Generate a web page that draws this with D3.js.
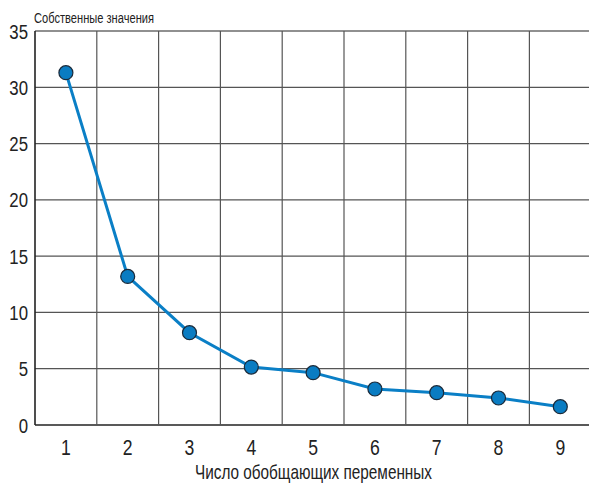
<!DOCTYPE html>
<html><head><meta charset="utf-8">
<script src="https://cdn.jsdelivr.net/npm/d3@7"></script>
<style>
body{margin:0;background:#fff;}
text{font-family:"Liberation Sans",Arial,sans-serif;fill:#222;}
</style></head><body>
<svg id="c" width="589" height="484"></svg>
<script>
const categories = [1,2,3,4,5,6,7,8,9];
const values = [31.3, 13.2, 8.2, 5.15, 4.65, 3.2, 2.87, 2.4, 1.63];
const yTicks = [0,5,10,15,20,25,30,35];
const yLabel = "Собственные значения";
const xLabel = "Число обобщающих переменных";

const svg = d3.select("#c");
const L=35, T=31, B=425, W=61.8;
const x = d3.scaleBand().domain(categories).range([L, L+W*categories.length]).padding(0);
const y = d3.scaleLinear().domain([0,35]).range([B,T]);
const SX = 0.8;

// horizontal grid
svg.append("g").selectAll("line").data(yTicks).join("line")
  .attr("x1",L).attr("x2",589).attr("y1",d=>y(d)).attr("y2",d=>y(d))
  .attr("stroke",d=>d===0||d===35?"#222":"#555").attr("stroke-width",d=>d===0?1.6:1.2);
// vertical grid
svg.append("g").selectAll("line").data(categories).join("line")
  .attr("x1",d=>x(d)).attr("x2",d=>x(d)).attr("y1",T).attr("y2",B)
  .attr("stroke",(d,i)=>i===0?"#222":"#555").attr("stroke-width",(d,i)=>i===0?1.6:1.2);

// y tick labels
svg.append("g").selectAll("text").data(yTicks).join("text")
  .attr("transform",d=>`translate(28,${y(d)+7.5}) scale(${SX},1)`)
  .attr("text-anchor","end").attr("font-size",21).text(d=>d);
// x tick labels
svg.append("g").selectAll("text").data(categories).join("text")
  .attr("transform",d=>`translate(${x(d)+x.bandwidth()/2},455) scale(${SX},1)`)
  .attr("text-anchor","middle").attr("font-size",22).text(d=>d);

svg.append("text").attr("x",34).attr("y",23).attr("font-size",14)
  .attr("textLength",120).attr("lengthAdjust","spacingAndGlyphs").text(yLabel);
svg.append("text").attr("x",195).attr("y",479).attr("font-size",21)
  .attr("textLength",237).attr("lengthAdjust","spacingAndGlyphs").text(xLabel);

const cx = d=>x(d)+x.bandwidth()/2;
svg.append("path").datum(categories)
  .attr("d", d3.line().x(d=>cx(d)).y((d,i)=>y(values[i])))
  .attr("fill","none").attr("stroke","#0a7fc6").attr("stroke-width",3);
svg.append("g").selectAll("circle").data(categories).join("circle")
  .attr("cx",d=>cx(d)).attr("cy",(d,i)=>y(values[i])).attr("r",7)
  .attr("fill","#0a7cc2").attr("stroke","#1a2a3a").attr("stroke-width",1.2);
</script></body></html>
